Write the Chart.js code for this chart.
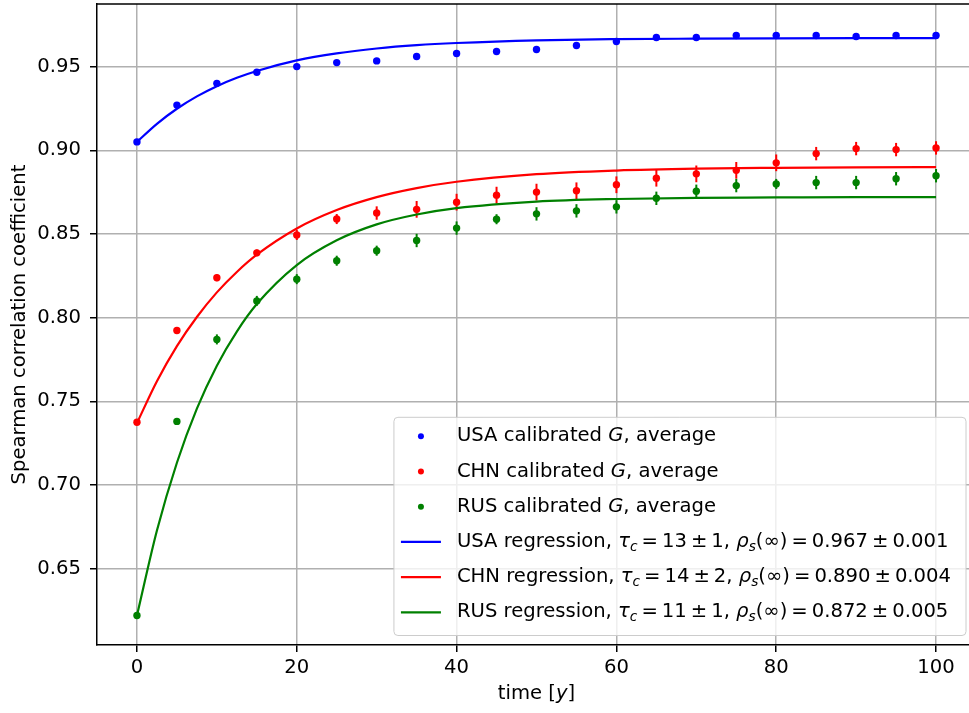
<!DOCTYPE html>
<html>
<head>
<meta charset="utf-8">
<script src="https://cdn.jsdelivr.net/npm/chart.js@4.4.1/dist/chart.umd.min.js"></script>
<style>
  html, body { margin: 0; padding: 0; background: #fff; overflow: hidden; }
  #wrap { width: 980px; height: 713px; }
</style>
</head>
<body>
<div id="wrap"><canvas id="chart" width="980" height="713"></canvas></div>
<script>
// sampled years
const years = [0, 5, 10, 15, 20, 25, 30, 35, 40, 45, 50, 55, 60, 65, 70, 75, 80, 85, 90, 95, 100];

// calibrated G averages
const usaAvg = [0.905, 0.927, 0.940, 0.9466, 0.950, 0.9524, 0.9534, 0.956, 0.9578, 0.959, 0.9602, 0.9626, 0.965, 0.9674, 0.9674, 0.9686, 0.9686, 0.9686, 0.968, 0.9686, 0.9686];
const chnAvg = [0.7375, 0.7923, 0.8238, 0.8387, 0.8494, 0.8589, 0.8625, 0.8647, 0.869, 0.8732, 0.875, 0.8758, 0.8794, 0.8833, 0.8859, 0.888, 0.8925, 0.898, 0.901, 0.9004, 0.9014];
const rusAvg = [0.622, 0.738, 0.787, 0.810, 0.823, 0.834, 0.840, 0.8461, 0.8535, 0.8588, 0.862, 0.8638, 0.8662, 0.8713, 0.8755, 0.8789, 0.8799, 0.8807, 0.8807, 0.883, 0.8848];

// error bar half-widths
const usaErr = [0, 0, 0, 0, 0.0005, 0.0005, 0.0005, 0.0005, 0.0005, 0.0005, 0.0005, 0.0005, 0.0005, 0.0005, 0.0005, 0.0005, 0.0005, 0.0005, 0.0005, 0.0005, 0.0005];
const chnErr = [0, 0.001, 0.002, 0.002, 0.003, 0.003, 0.004, 0.005, 0.005, 0.005, 0.005, 0.005, 0.005, 0.005, 0.005, 0.005, 0.005, 0.004, 0.004, 0.004, 0.004];
const rusErr = [0, 0, 0.003, 0.003, 0.003, 0.003, 0.003, 0.004, 0.004, 0.003, 0.004, 0.004, 0.004, 0.004, 0.004, 0.004, 0.003, 0.004, 0.004, 0.004, 0.004];

// regression curves
const fitYears = [0, 2.5, 5, 7.5, 10, 12.5, 15, 20, 25, 30, 35, 40, 50, 60, 70, 80, 90, 100];
const usaFit = [0.905, 0.9158, 0.9248, 0.9322, 0.9383, 0.9433, 0.9474, 0.9537, 0.9579, 0.9608, 0.9628, 0.9641, 0.9657, 0.9664, 0.9667, 0.9669, 0.967, 0.967];
const chnFit = [0.737, 0.762, 0.783, 0.8004, 0.8151, 0.8273, 0.8376, 0.8533, 0.8643, 0.872, 0.8774, 0.8812, 0.8857, 0.8879, 0.889, 0.8895, 0.8898, 0.8899];
const rusFit = [0.622, 0.6728, 0.7133, 0.7456, 0.7713, 0.7917, 0.8081, 0.8314, 0.8462, 0.8557, 0.8616, 0.8654, 0.8693, 0.8709, 0.8716, 0.8718, 0.872, 0.872];

// legend numbers
const countries = ['USA', 'CHN', 'RUS'];
const tauC = ['13', '14', '11'];
const tauErr = ['1', '2', '1'];
const rhoInf = ['0.967', '0.890', '0.872'];
const rhoErr = ['0.001', '0.004', '0.005'];

// ticks
const xTicks = [0, 20, 40, 60, 80, 100];
const yTicks = [0.65, 0.70, 0.75, 0.80, 0.85, 0.90, 0.95];

const colors = ['#0000ff', '#ff0000', '#008000'];
const FONT = '"DejaVu Sans", sans-serif';
const FS = 19.6;

function pts(xs, ys) {
  return xs.map((x, i) => ({ x: x, y: ys[i] }));
}

// text made of normal / italic / subscript pieces, g = gap in px
function richWidth(ctx, parts) {
  let w = 0;
  parts.forEach(p => {
    if (p.g) { w += p.g; return; }
    ctx.font = (p.i ? 'italic ' : '') + (p.s ? FS * 0.7 : FS) + 'px ' + FONT;
    w += ctx.measureText(p.t).width;
  });
  return w;
}
function drawRich(ctx, parts, x, y) {
  ctx.textBaseline = 'middle';
  ctx.textAlign = 'left';
  parts.forEach(p => {
    if (p.g) { x += p.g; return; }
    ctx.font = (p.i ? 'italic ' : '') + (p.s ? FS * 0.7 : FS) + 'px ' + FONT;
    ctx.fillText(p.t, x, y + (p.s ? FS * 0.28 : 0));
    x += ctx.measureText(p.t).width;
  });
}

const avgSeries = [usaAvg, chnAvg, rusAvg];
const errSeries = [usaErr, chnErr, rusErr];
const fitSeries = [usaFit, chnFit, rusFit];

const G = 4; // math operator spacing
const legendItems = [];
countries.forEach((c, k) => {
  legendItems.push({ kind: 'dot', color: colors[k], parts: [{ t: c + ' calibrated ' }, { t: 'G', i: 1 }, { t: ', average' }] });
});
countries.forEach((c, k) => {
  legendItems.push({ kind: 'line', color: colors[k], parts: [
    { t: c + ' regression, ' }, { t: 'τ', i: 1 }, { t: 'c', i: 1, s: 1 },
    { g: G }, { t: '=' }, { g: G }, { t: tauC[k] }, { g: G }, { t: '±' }, { g: G }, { t: tauErr[k] + ', ' },
    { t: 'ρ', i: 1 }, { t: 's', i: 1, s: 1 }, { t: '(∞)' },
    { g: G }, { t: '=' }, { g: G }, { t: rhoInf[k] }, { g: G }, { t: '±' }, { g: G }, { t: rhoErr[k] }
  ] });
});

const errorBars = {
  id: 'errorBars',
  beforeDatasetsDraw(chart) {
    const ctx = chart.ctx, xs = chart.scales.x, ys = chart.scales.y;
    ctx.save();
    ctx.lineWidth = 2;
    errSeries.forEach((errs, k) => {
      ctx.strokeStyle = colors[k];
      years.forEach((yr, i) => {
        if (!errs[i]) return;
        const px = xs.getPixelForValue(yr);
        ctx.beginPath();
        ctx.moveTo(px, ys.getPixelForValue(avgSeries[k][i] - errs[i]));
        ctx.lineTo(px, ys.getPixelForValue(avgSeries[k][i] + errs[i]));
        ctx.stroke();
      });
    });
    ctx.restore();
  }
};

const frameAndLegend = {
  id: 'frameAndLegend',
  afterDraw(chart) {
    const ctx = chart.ctx, a = chart.chartArea;
    ctx.save();
    // top and right spines
    ctx.strokeStyle = '#000';
    ctx.lineWidth = 1.5;
    ctx.beginPath();
    ctx.moveTo(a.left, a.top);
    ctx.lineTo(a.right, a.top);
    ctx.lineTo(a.right, a.bottom);
    ctx.stroke();

    // x axis title with italic y
    const xt = [{ t: 'time [' }, { t: 'y', i: 1 }, { t: ']' }];
    ctx.fillStyle = '#000';
    drawRich(ctx, xt, (a.left + a.right) / 2 - richWidth(ctx, xt) / 2, 694);

    // legend
    const rowH = 35.2;
    let maxW = 0;
    legendItems.forEach(it => { maxW = Math.max(maxW, richWidth(ctx, it.parts)); });
    const boxW = 63 + maxW + 15;
    const boxH = rowH * legendItems.length + 7;
    const bx = a.right - 10 - boxW;
    const by = a.bottom - 9.5 - boxH;
    ctx.fillStyle = 'rgba(255,255,255,0.8)';
    ctx.strokeStyle = '#cccccc';
    ctx.lineWidth = 1;
    ctx.beginPath();
    ctx.roundRect(bx, by, boxW, boxH, 4);
    ctx.fill();
    ctx.stroke();
    legendItems.forEach((it, i) => {
      const cy = by + 19 + i * rowH;
      if (it.kind === 'dot') {
        ctx.fillStyle = it.color;
        ctx.beginPath();
        ctx.arc(bx + 27, cy, 3, 0, Math.PI * 2);
        ctx.fill();
      } else {
        ctx.strokeStyle = it.color;
        ctx.lineWidth = 2.2;
        ctx.beginPath();
        ctx.moveTo(bx + 7, cy);
        ctx.lineTo(bx + 47, cy);
        ctx.stroke();
      }
      ctx.fillStyle = '#000';
      drawRich(ctx, it.parts, bx + 63, cy);
    });
    ctx.restore();
  }
};

Chart.defaults.font.family = FONT;
Chart.defaults.font.size = FS;
Chart.defaults.color = '#000';

const datasets = [];
countries.forEach((c, k) => {
  datasets.push({
    type: 'line',
    label: c + ' regression',
    data: pts(fitYears, fitSeries[k]),
    borderColor: colors[k],
    borderWidth: 2.2,
    pointRadius: 0,
    fill: false,
    cubicInterpolationMode: 'monotone'
  });
});
countries.forEach((c, k) => {
  datasets.push({
    type: 'scatter',
    label: c + ' calibrated G, average',
    data: pts(years, avgSeries[k]),
    backgroundColor: colors[k],
    borderWidth: 0,
    pointRadius: 3.7
  });
});

const gridOpts = { color: '#b0b0b0', lineWidth: 1.5, tickColor: '#000', tickLength: 7, tickWidth: 1.5 };

new Chart(document.getElementById('chart'), {
  type: 'scatter',
  data: { datasets: datasets },
  options: {
    responsive: false,
    animation: false,
    devicePixelRatio: 1,
    layout: { padding: { top: 2.5, right: 3, left: 0, bottom: 0 } },
    plugins: { legend: { display: false }, tooltip: { enabled: false } },
    scales: {
      x: {
        type: 'linear',
        min: -5,
        max: 105,
        afterBuildTicks: s => { s.ticks = xTicks.map(v => ({ value: v })); },
        afterFit: s => { s.height = 68; s.paddingLeft = 0; s.paddingRight = 0; },
        ticks: { padding: 4, callback: v => String(v) },
        grid: gridOpts,
        border: { color: '#000', width: 1.5 }
      },
      y: {
        type: 'linear',
        min: 0.6044,
        max: 0.9874,
        afterBuildTicks: s => { s.ticks = yTicks.map(v => ({ value: v })); },
        afterFit: s => { s.width = 97; s.paddingTop = 0; s.paddingBottom = 0; },
        ticks: { padding: 9, callback: v => Number(v).toFixed(2) },
        grid: gridOpts,
        border: { color: '#000', width: 1.5 },
        title: { display: true, text: 'Spearman correlation coefficient', padding: { top: 8, bottom: 0 } }
      }
    }
  },
  plugins: [errorBars, frameAndLegend]
});
</script>
</body>
</html>
